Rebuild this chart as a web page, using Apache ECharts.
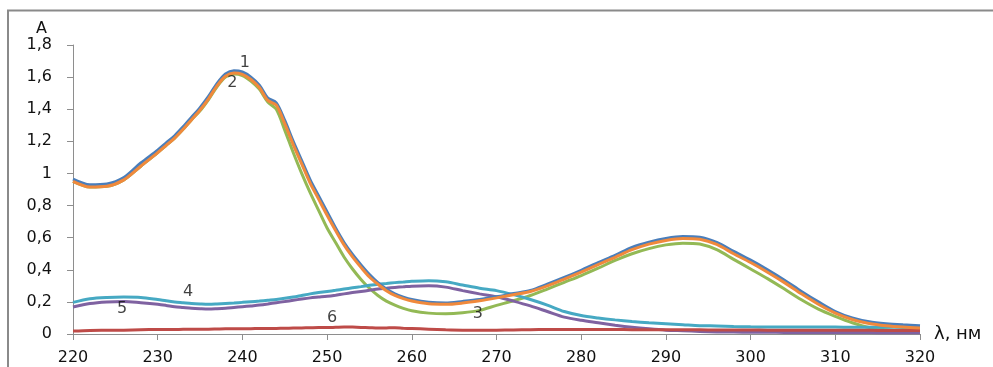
<!DOCTYPE html>
<html>
<head>
<meta charset="utf-8">
<title>Спектры поглощения</title>
<script src="https://cdn.jsdelivr.net/npm/echarts@6/dist/echarts.min.js"></script>
<style>
  html, body { margin: 0; padding: 0; background: #fff; }
  #chart { width: 993px; height: 367px; }
</style>
</head>
<body>
<div id="chart"></div>
<script>
// Wavelength grid, nm (1 nm steps across the main band, 2 nm elsewhere)
const wavelengths = [220,222,224,226,228,
  230,231,232,233,234,235,236,237,238,239,240,241,242,243,244,245,246,247,248,249,250,
  251,252,253,254,255,256,257,258,259,260,
  262,264,266,268,270,272,274,276,278,280,282,284,286,288,290,292,294,296,298,300,
  302,304,306,308,310,312,314,316,318,320];

// Absorbance of each solution
const curve1 = [0.965,0.93,0.935,0.975,1.065,
  1.145,1.19,1.235,1.29,1.35,1.41,1.48,1.56,1.62,1.64,1.632,1.60,1.55,1.47,1.44,1.33,1.20,1.08,0.96,0.86,0.76,
  0.66,0.57,0.495,0.43,0.37,0.32,0.28,0.25,0.23,0.215,
  0.198,0.193,0.203,0.215,0.232,0.252,0.271,0.31,0.352,0.397,0.445,0.49,0.54,0.572,0.595,0.607,0.602,0.57,0.515,0.46,
  0.40,0.335,0.265,0.20,0.14,0.10,0.076,0.064,0.057,0.052];
const curve2 = [0.95,0.915,0.92,0.96,1.045,
  1.13,1.175,1.22,1.275,1.335,1.395,1.465,1.545,1.605,1.625,1.617,1.585,1.535,1.455,1.425,1.31,1.18,1.06,0.94,0.84,0.74,
  0.645,0.555,0.48,0.415,0.355,0.31,0.27,0.24,0.22,0.205,
  0.188,0.185,0.193,0.207,0.225,0.245,0.265,0.30,0.342,0.386,0.432,0.478,0.525,0.56,0.583,0.595,0.59,0.558,0.50,0.445,
  0.385,0.32,0.25,0.185,0.13,0.09,0.066,0.052,0.043,0.037];
const curve3 = [0.95,0.915,0.92,0.96,1.045,
  1.13,1.175,1.22,1.275,1.335,1.39,1.46,1.54,1.60,1.62,1.61,1.575,1.525,1.445,1.40,1.27,1.13,1.00,0.88,0.77,0.66,
  0.57,0.48,0.405,0.34,0.285,0.24,0.205,0.18,0.16,0.145,
  0.13,0.126,0.132,0.147,0.178,0.207,0.24,0.28,0.322,0.364,0.41,0.458,0.50,0.532,0.555,0.566,0.56,0.525,0.465,0.405,
  0.345,0.28,0.213,0.155,0.11,0.07,0.04,0.026,0.018,0.015];
const curve4 = [0.197,0.22,0.228,0.23,0.228,
  0.215,0.207,0.20,0.195,0.19,0.187,0.185,0.187,0.19,0.193,0.197,0.201,0.205,0.21,0.215,0.222,0.23,0.24,0.25,0.258,0.265,
  0.272,0.28,0.288,0.295,0.303,0.31,0.315,0.32,0.324,0.328,
  0.332,0.325,0.305,0.285,0.27,0.245,0.215,0.18,0.14,0.115,0.10,0.088,0.078,0.07,0.064,0.058,0.052,0.05,0.047,0.045,
  0.044,0.044,0.043,0.043,0.043,0.042,0.042,0.042,0.041,0.041];
const curve5 = [0.168,0.19,0.20,0.203,0.195,
  0.185,0.178,0.17,0.165,0.16,0.157,0.155,0.157,0.16,0.165,0.17,0.175,0.18,0.187,0.195,0.202,0.21,0.218,0.225,0.23,0.235,
  0.242,0.25,0.258,0.265,0.272,0.28,0.285,0.29,0.294,0.298,
  0.30,0.292,0.27,0.25,0.232,0.205,0.175,0.14,0.105,0.085,0.07,0.055,0.042,0.032,0.024,0.02,0.016,0.013,0.012,0.011,
  0.011,0.01,0.01,0.01,0.009,0.009,0.009,0.008,0.008,0.008];
const curve6 = [0.018,0.022,0.023,0.024,0.027,
  0.028,0.028,0.028,0.029,0.029,0.03,0.03,0.031,0.032,0.032,0.033,0.033,0.034,0.034,0.035,0.036,0.037,0.038,0.039,0.04,0.04,
  0.042,0.044,0.043,0.041,0.039,0.037,0.038,0.039,0.036,0.034,
  0.03,0.026,0.024,0.024,0.024,0.025,0.027,0.028,0.028,0.028,0.028,0.028,0.027,0.027,0.027,0.026,0.026,0.025,0.025,0.025,
  0.024,0.024,0.024,0.023,0.023,0.023,0.023,0.022,0.022,0.022];

// Curve numbers placed next to the lines (λ, A)
const labelText = ['1','2','3','4','5','6'];
const labelX = [240.3, 238.8, 267.8, 233.6, 225.8, 250.6];
const labelY = [1.686, 1.562, 0.124, 0.265, 0.156, 0.103];

// Axis ticks
const xTicks = { min: 220, max: 320, step: 10 };
const yTicks = { min: 0, max: 1.8, step: 0.2 };

const colors = {
  c1: '#4a7ebb', c2: '#f0893c', c3: '#93b955', c4: '#46a9c3', c5: '#7f62a1', c6: '#be4b48'
};

const toPairs = arr => wavelengths.map((w, i) => [w, arr[i]]);

function lineSeries(name, arr, color, z) {
  return {
    name: name,
    type: 'line',
    data: toPairs(arr),
    smooth: 0.3,
    showSymbol: false,
    symbol: 'none',
    z: z,
    lineStyle: { color: color, width: 3 },
    emphasis: { disabled: true }
  };
}

const fontFamily = '"DejaVu Sans", sans-serif';
const textColor = '#111';
const axisGray = '#8e8e8e';

const chart = echarts.init(document.getElementById('chart'), null, { renderer: 'canvas' });

chart.setOption({
  animation: false,
  backgroundColor: '#fff',
  grid: { left: 73, right: 73, top: 45, bottom: 33 },
  graphic: [{
    type: 'polyline',
    shape: { points: [[8, 400], [8, 10.5], [1000, 10.5]] },
    style: { fill: null, stroke: '#8a8a8a', lineWidth: 2 },
    silent: true,
    z: -10
  }],
  xAxis: {
    type: 'value',
    min: xTicks.min, max: xTicks.max, interval: xTicks.step,
    name: 'λ, нм',
    nameLocation: 'end',
    nameGap: 14,
    nameTextStyle: { fontFamily: fontFamily, fontSize: 18, color: textColor, align: 'left', verticalAlign: 'middle' },
    axisLine: { show: true, onZero: false, lineStyle: { color: axisGray, width: 1 } },
    axisTick: { show: true, inside: false, length: 6, lineStyle: { color: axisGray } },
    axisLabel: { fontFamily: fontFamily, fontSize: 16, color: textColor, margin: 16 },
    splitLine: { show: false }
  },
  yAxis: {
    type: 'value',
    min: yTicks.min, max: yTicks.max, interval: yTicks.step,
    name: 'A',
    nameLocation: 'end',
    nameGap: 9,
    nameTextStyle: { fontFamily: fontFamily, fontSize: 16, color: textColor, align: 'right', verticalAlign: 'middle', padding: [0, 26, 0, 0] },
    axisLine: { show: true, lineStyle: { color: axisGray, width: 1 } },
    axisTick: { show: true, inside: false, length: 6, lineStyle: { color: axisGray } },
    axisLabel: {
      fontFamily: fontFamily, fontSize: 16, color: textColor, margin: 21,
      formatter: v => String(+v.toFixed(1)).replace('.', ',')
    },
    splitLine: { show: false }
  },
  series: [
    lineSeries('3', curve3, colors.c3, 2),
    lineSeries('1', curve1, colors.c1, 3),
    lineSeries('2', curve2, colors.c2, 4),
    lineSeries('4', curve4, colors.c4, 2),
    lineSeries('5', curve5, colors.c5, 2),
    lineSeries('6', curve6, colors.c6, 2),
    {
      name: 'numbers',
      type: 'scatter',
      symbolSize: 0,
      z: 10,
      silent: true,
      data: labelText.map((t, i) => ({ name: t, value: [labelX[i], labelY[i]] })),
      label: {
        show: true,
        position: 'inside',
        formatter: p => p.name,
        fontFamily: fontFamily,
        fontSize: 16,
        color: textColor
      }
    }
  ]
});
</script>
</body>
</html>
